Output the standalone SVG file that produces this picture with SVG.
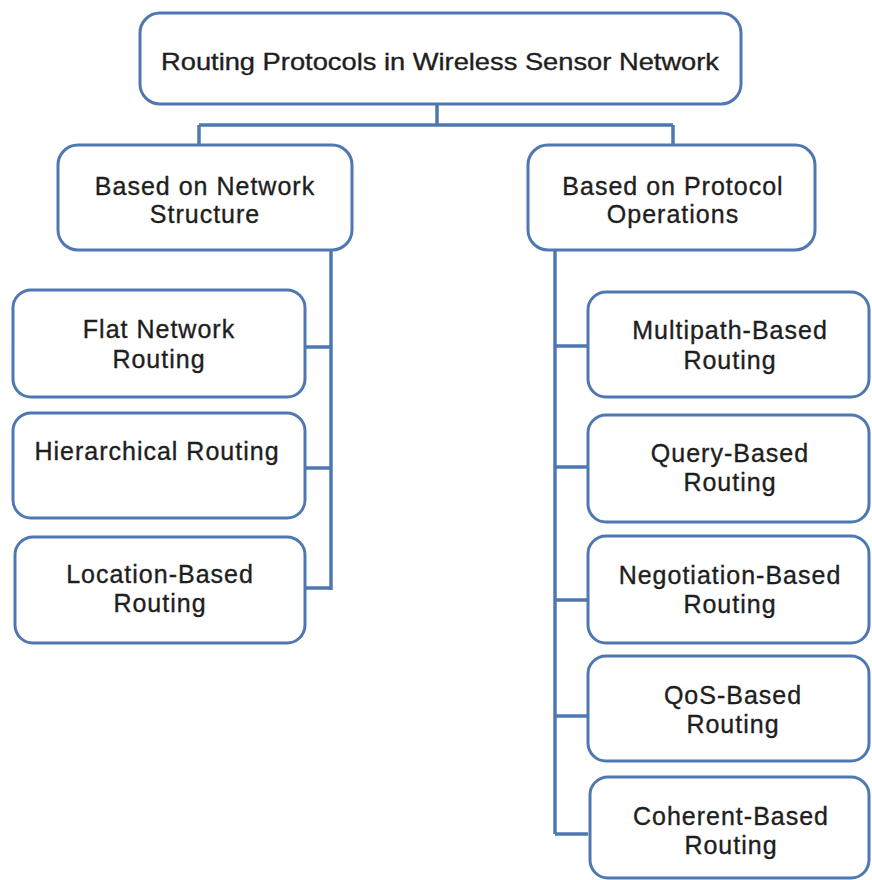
<svg xmlns="http://www.w3.org/2000/svg" width="872" height="880" viewBox="0 0 872 880">
<style>
.box{fill:#ffffff;stroke:#4f78b0;stroke-width:3}
.conn{fill:none;stroke:#4f78b0;stroke-width:3.5}
text{font-family:"Liberation Sans",Arial,sans-serif;font-size:25px;fill:#1e1e1e;stroke:#1e1e1e;stroke-width:0.35;text-anchor:middle;letter-spacing:1px}
</style>
<rect width="872" height="880" fill="#ffffff"/>
<g id="connectors">
<path class="conn" d="M437 104 V125 M199 125 H673 M199 125 V145 M673 125 V145"/>
<path class="conn" d="M331 250 V590 M305 347 H331 M305 468 H331 M305 588 H331"/>
<path class="conn" d="M555 250 V834 M555 346 H588 M555 467 H588 M555 600 H588 M555 716 H588 M555 834 H588"/>
</g>
<g id="root">
<rect class="box" x="140" y="13" width="601" height="91" rx="20"/>
<text x="440" y="70" textLength="558" lengthAdjust="spacingAndGlyphs" style="letter-spacing:0;font-size:24px">Routing Protocols in Wireless Sensor Network</text>
</g>
<g id="network-structure">
<rect class="box" x="58" y="145" width="294" height="105" rx="20"/>
<text x="205" y="195">Based on Network</text>
<text x="205" y="223">Structure</text>
</g>
<g id="protocol-operations">
<rect class="box" x="528" y="145" width="287" height="105" rx="20"/>
<text x="673" y="195">Based on Protocol</text>
<text x="673" y="223">Operations</text>
</g>
<g id="flat">
<rect class="box" x="13" y="290" width="292" height="107" rx="18"/>
<text x="159" y="338">Flat Network</text>
<text x="159" y="368">Routing</text>
</g>
<g id="hierarchical">
<rect class="box" x="13" y="413" width="292" height="105" rx="18"/>
<text x="157" y="460">Hierarchical Routing</text>
</g>
<g id="location">
<rect class="box" x="15" y="537" width="290" height="106" rx="18"/>
<text x="160" y="583">Location-Based</text>
<text x="160" y="612">Routing</text>
</g>
<g id="multipath">
<rect class="box" x="588" y="292" width="281" height="105" rx="18"/>
<text x="730" y="339">Multipath-Based</text>
<text x="730" y="369">Routing</text>
</g>
<g id="query">
<rect class="box" x="588" y="415" width="281" height="107" rx="18"/>
<text x="730" y="462">Query-Based</text>
<text x="730" y="491">Routing</text>
</g>
<g id="negotiation">
<rect class="box" x="588" y="536" width="281" height="107" rx="18"/>
<text x="730" y="584">Negotiation-Based</text>
<text x="730" y="613">Routing</text>
</g>
<g id="qos">
<rect class="box" x="588" y="656" width="281" height="105" rx="18"/>
<text x="733" y="704">QoS-Based</text>
<text x="733" y="733">Routing</text>
</g>
<g id="coherent">
<rect class="box" x="590" y="777" width="279" height="101" rx="18"/>
<text x="731" y="825">Coherent-Based</text>
<text x="731" y="854">Routing</text>
</g>
</svg>
